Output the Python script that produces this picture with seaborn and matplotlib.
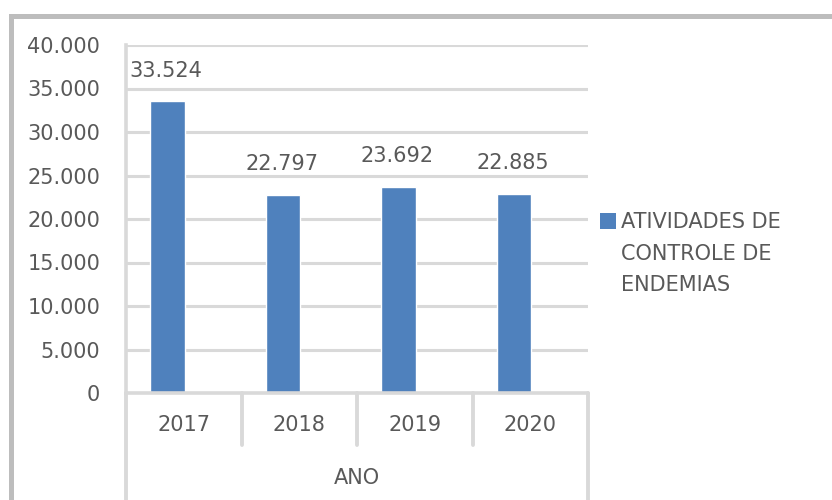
import matplotlib
matplotlib.use("Agg")
import matplotlib.pyplot as plt
import matplotlib.transforms as mtransforms
from matplotlib.patches import Rectangle
from matplotlib.ticker import FuncFormatter, MultipleLocator
import pandas as pd
import seaborn as sns

# Activities per year
anos = ["2017", "2018", "2019", "2020"]
atividades = [33524, 22797, 23692, 22885]
serie = ["ATIVIDADES DE", "CONTROLE DE", "ENDEMIAS"]
titulo_eixo_x = "ANO"

sns.set_theme(style="white")
plt.rcParams["font.family"] = ["DejaVu Sans"]

TEXT = "#595959"
BAR = "#4F81BD"
GRID = "#d9d9d9"
FS = 15

df = pd.DataFrame({"ano": anos, "valor": atividades})

fig = plt.figure(figsize=(8.32, 5.0), dpi=100)
W, H = 832, 500
left, right, top, bottom = 126, 588, 45, 393
ax = fig.add_axes([left / W, 1 - bottom / H, (right - left) / W, (bottom - top) / H])

sns.barplot(data=df, x="ano", y="valor", color=BAR, width=0.30,
            saturation=1, ax=ax, zorder=3)

# bars sit slightly left of the centre of each category cell
ax.set_xlim(-0.36, len(anos) - 0.36)
ax.set_ylim(0, 40000)
ax.yaxis.set_major_locator(MultipleLocator(5000))
ax.yaxis.set_major_formatter(
    FuncFormatter(lambda v, _: f"{int(v):,}".replace(",", ".")))
ax.grid(axis="y", color=GRID, linewidth=2.2, zorder=0)
ax.set_axisbelow(True)

for s in ["top", "right", "bottom"]:
    ax.spines[s].set_visible(False)
ax.spines["left"].set_color(GRID)
ax.spines["left"].set_linewidth(2.6)

ax.tick_params(axis="y", colors=GRID, length=5, width=2, pad=13.5,
               labelcolor=TEXT, labelsize=FS)
ax.set_xticks([])
ax.set_xlabel("")
ax.set_ylabel("")

# Value labels above each bar
for i, v in enumerate(atividades):
    ax.annotate(f"{v:,}".replace(",", "."), (i, v), xytext=(-1, 22),
                textcoords="offset points", ha="center", va="center",
                color=TEXT, fontsize=FS)

# Category axis drawn as a grouped table below the plot
n = len(anos)
trans = mtransforms.blended_transform_factory(ax.transAxes, fig.transFigure)
y0 = 1 - bottom / H
y_sep = 1 - 445 / H
ax.plot([0, 1], [y0, y0], transform=trans, color=GRID,
        linewidth=2.6, clip_on=False, zorder=4)
for k in range(n + 1):
    xk = k / n
    yend = -0.01 if k in (0, n) else y_sep
    ax.plot([xk, xk], [y0, yend], transform=trans, color=GRID,
            linewidth=2.8, clip_on=False)
for i, a in enumerate(anos):
    ax.text((i + 0.5) / n, 1 - 425 / H, a, transform=trans, ha="center",
            va="center", color=TEXT, fontsize=FS)
ax.text(0.5, 1 - 478 / H, titulo_eixo_x, transform=trans,
        ha="center", va="center", color=TEXT, fontsize=FS)

# Legend
fig.patches.append(Rectangle((600 / W, 1 - 229 / H), 16 / W, 16 / H,
                             transform=fig.transFigure, facecolor=BAR,
                             edgecolor="none"))
for j, linha in enumerate(serie):
    fig.text(621 / W, 1 - (222 + 31.5 * j) / H, linha, ha="left",
             va="center", color=TEXT, fontsize=FS,
             transform=fig.transFigure)

# Outer frame (left and top edges visible)
fig.patches.append(Rectangle((10.5 / W, -0.1), 1.2, 1 - 15.5 / H + 0.1,
                             transform=fig.transFigure, facecolor="none",
                             edgecolor="#bdbdbd", linewidth=3.6))

fig.savefig("out.png", dpi=100)
